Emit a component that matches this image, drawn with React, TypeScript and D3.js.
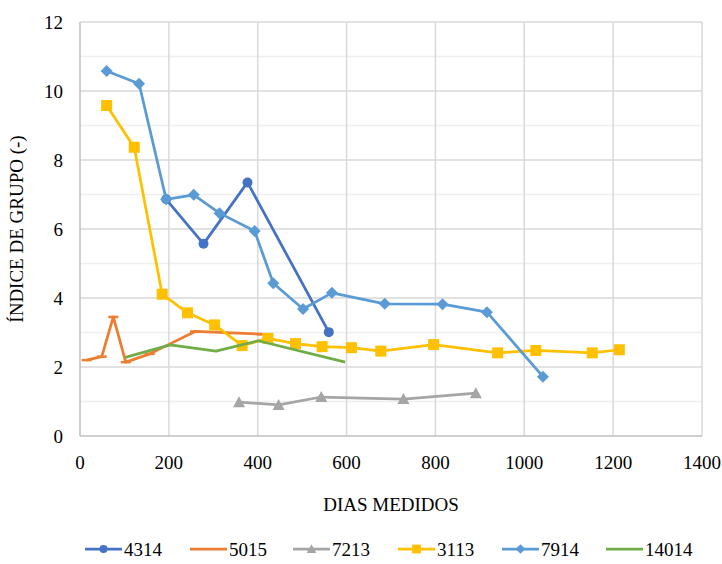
import React from "react";
import * as d3 from "d3";

// Measurement series: days measured vs. group index
const s4314 = [
  { x: 194, y: 6.86 },
  { x: 278, y: 5.57 },
  { x: 377, y: 7.35 },
  { x: 560, y: 3.01 },
];
const s5015 = [
  { x: 15, y: 2.2 },
  { x: 49, y: 2.3 },
  { x: 75, y: 3.45 },
  { x: 103, y: 2.14 },
  { x: 157, y: 2.38 },
  { x: 259, y: 3.03 },
  { x: 409, y: 2.95 },
];
const s7213 = [
  { x: 358, y: 0.98 },
  { x: 447, y: 0.9 },
  { x: 543, y: 1.13 },
  { x: 728, y: 1.07 },
  { x: 891, y: 1.24 },
];
const s3113 = [
  { x: 60, y: 9.58 },
  { x: 122, y: 8.37 },
  { x: 185, y: 4.11 },
  { x: 242, y: 3.57 },
  { x: 303, y: 3.22 },
  { x: 365, y: 2.62 },
  { x: 423, y: 2.83 },
  { x: 485, y: 2.68 },
  { x: 545, y: 2.59 },
  { x: 611, y: 2.56 },
  { x: 677, y: 2.46 },
  { x: 796, y: 2.65 },
  { x: 940, y: 2.41 },
  { x: 1026, y: 2.48 },
  { x: 1153, y: 2.41 },
  { x: 1214, y: 2.5 },
];
const s7914 = [
  { x: 60, y: 10.58 },
  { x: 133, y: 10.21 },
  { x: 194, y: 6.86 },
  { x: 256, y: 6.99 },
  { x: 314, y: 6.46 },
  { x: 393, y: 5.94 },
  { x: 435, y: 4.43 },
  { x: 502, y: 3.68 },
  { x: 567, y: 4.15 },
  { x: 686, y: 3.83 },
  { x: 816, y: 3.82 },
  { x: 916, y: 3.59 },
  { x: 1042, y: 1.72 },
];
const s14014 = [
  { x: 102, y: 2.28 },
  { x: 203, y: 2.64 },
  { x: 306, y: 2.46 },
  { x: 401, y: 2.76 },
  { x: 597, y: 2.14 },
];

const xTicks = [0, 200, 400, 600, 800, 1000, 1200, 1400];
const yTicks = [0, 2, 4, 6, 8, 10, 12];
const yMinorTicks = [1, 3, 5, 7, 9, 11];

type Marker = "circle" | "dash" | "triangle" | "square" | "diamond" | "none";

const series: { name: string; data: { x: number; y: number }[]; color: string; marker: Marker }[] = [
  { name: "4314", data: s4314, color: "#4472C4", marker: "circle" },
  { name: "5015", data: s5015, color: "#ED7D31", marker: "dash" },
  { name: "7213", data: s7213, color: "#A5A5A5", marker: "triangle" },
  { name: "3113", data: s3113, color: "#FFC000", marker: "square" },
  { name: "7914", data: s7914, color: "#5B9BD5", marker: "diamond" },
  { name: "14014", data: s14014, color: "#70AD47", marker: "none" },
];

const FONT = "Liberation Serif, Times New Roman, DejaVu Serif, serif";
const textStyle = { fontFamily: FONT, fontSize: 19 };

function MarkerShape({ type, cx, cy, color, scale = 1 }: { type: Marker; cx: number; cy: number; color: string; scale?: number }) {
  const s = scale;
  switch (type) {
    case "circle":
      return <circle cx={cx} cy={cy} r={5 * s} fill={color} />;
    case "square":
      return <rect x={cx - 5.5 * s} y={cy - 5.5 * s} width={11 * s} height={11 * s} fill={color} />;
    case "diamond":
      return (
        <path
          d={`M${cx},${cy - 6 * s}L${cx + 6 * s},${cy}L${cx},${cy + 6 * s}L${cx - 6 * s},${cy}Z`}
          fill={color}
        />
      );
    case "triangle":
      return (
        <path
          d={`M${cx},${cy - 6 * s}L${cx + 6 * s},${cy + 5 * s}L${cx - 6 * s},${cy + 5 * s}Z`}
          fill={color}
        />
      );
    case "dash":
      return <line x1={cx - 5 * s} x2={cx + 5 * s} y1={cy} y2={cy} stroke={color} strokeWidth={2.5} />;
    default:
      return null;
  }
}

export default function App() {
  const width = 722;
  const height = 564;
  const left = 80;
  const right = 702;
  const top = 22;
  const bottom = 436;

  const x = d3.scaleLinear().domain([0, 1400]).range([left, right]);
  const y = d3.scaleLinear().domain([0, 12]).range([bottom, top]);

  const line = d3
    .line<{ x: number; y: number }>()
    .x((d) => x(d.x))
    .y((d) => y(d.y));

  const legendX = [85, 190, 293, 398, 502, 606];
  const legendY = 549;

  return (
    <svg
      width={width}
      height={height}
      style={{ position: "absolute", left: 0, top: 0, background: "#fff" }}
    >
      <rect width={width} height={height} fill="#fff" />
      {/* minor horizontal grid */}
      {yMinorTicks.map((t) => (
        <line key={"m" + t} x1={left} x2={right} y1={y(t)} y2={y(t)} stroke="#EFEFEF" strokeWidth={1.5} />
      ))}
      {/* major horizontal grid */}
      {yTicks.slice(1).map((t) => (
        <line key={"h" + t} x1={left} x2={right} y1={y(t)} y2={y(t)} stroke="#D9D9D9" strokeWidth={1.5} />
      ))}
      {/* vertical grid */}
      {xTicks.slice(1).map((t) => (
        <line key={"v" + t} x1={x(t)} x2={x(t)} y1={top} y2={bottom} stroke="#D9D9D9" strokeWidth={1.5} />
      ))}
      {/* axes */}
      <line x1={left} x2={left} y1={top} y2={bottom} stroke="#BFBFBF" strokeWidth={1.5} />
      <line x1={left} x2={right} y1={bottom} y2={bottom} stroke="#BFBFBF" strokeWidth={1.5} />

      {/* tick labels */}
      {yTicks.map((t) => (
        <text key={"yl" + t} x={63} y={y(t)} dy="0.35em" textAnchor="end" style={textStyle} fill="#000">
          {t}
        </text>
      ))}
      {xTicks.map((t) => (
        <text key={"xl" + t} x={x(t)} y={469} textAnchor="middle" style={textStyle} fill="#000">
          {t}
        </text>
      ))}

      {/* axis titles */}
      <text x={391} y={511} textAnchor="middle" style={textStyle} fill="#000">
        DIAS MEDIDOS
      </text>
      <text
        transform={`translate(23,${y(6)}) rotate(-90)`}
        textAnchor="middle"
        style={textStyle}
        fill="#000"
      >
        ÍNDICE DE GRUPO (-)
      </text>

      {/* series */}
      {series.map((s) => (
        <g key={s.name}>
          <path d={line(s.data) || ""} fill="none" stroke={s.color} strokeWidth={2.75} strokeLinejoin="round" />
          {s.data.map((d, i) => (
            <MarkerShape key={i} type={s.marker} cx={x(d.x)} cy={y(d.y)} color={s.color} />
          ))}
        </g>
      ))}

      {/* legend */}
      {series.map((s, i) => (
        <g key={"lg" + s.name}>
          <line
            x1={legendX[i]}
            x2={legendX[i] + 37}
            y1={legendY}
            y2={legendY}
            stroke={s.color}
            strokeWidth={2.75}
          />
          {s.marker !== "dash" && (
            <MarkerShape type={s.marker} cx={legendX[i] + 18.5} cy={legendY} color={s.color} scale={0.8} />
          )}
          <text x={legendX[i] + 39} y={legendY} dy="0.35em" style={textStyle} fill="#000">
            {s.name}
          </text>
        </g>
      ))}
    </svg>
  );
}
